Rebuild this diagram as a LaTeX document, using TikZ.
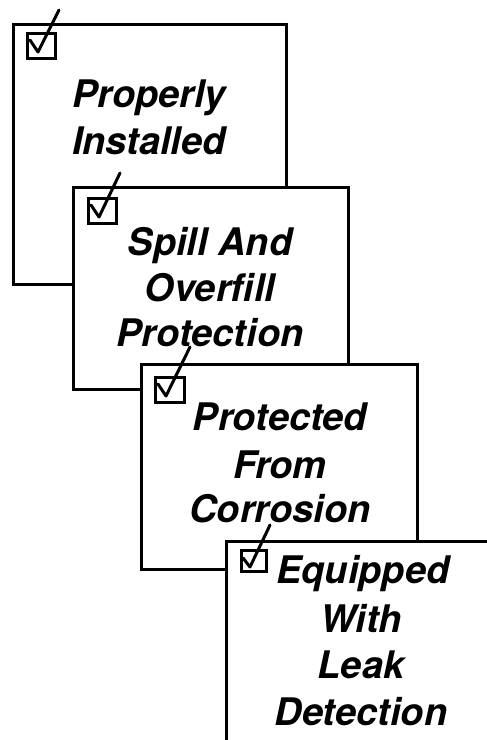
\documentclass[tikz,border=0pt]{standalone}
\usepackage{fontspec}
\newfontfamily\lblfont{TeX Gyre Heros}
\begin{document}
\begin{tikzpicture}[x=1pt,y=-1pt,
 box/.style={draw,line width=2.8pt,fill=white,anchor=north west,inner sep=0pt},
 cbox/.style={draw,line width=2.8pt,anchor=north west,inner sep=0pt},
 tick/.style={line width=3pt,line cap=round,line join=round},
 lbl/.style={anchor=base,inner sep=0pt,font=\lblfont\fontsize{38}{40}\selectfont\bfseries\itshape}]
\useasboundingbox (0,0) rectangle (487,740);
\begin{scope}
\clip (0,0) rectangle (487,740);
% box 1
\node[box,minimum width=273pt,minimum height=260pt] (b1) at (12,23) {};
\node[cbox,minimum width=28pt,minimum height=25pt] (cb1) at (26,32) {};
\draw[tick] ([shift={(4,8)}]cb1.north west) -- ([shift={(12,20)}]cb1.north west) -- ([shift={(33,-22)}]cb1.north west);
\node[lbl] (t1a) at (149,107) {Properly};
\node[lbl] (t1b) at (149,154) {Installed};
% box 2
\node[box,minimum width=275pt,minimum height=202pt] (b2) at (72,186) {};
\node[cbox,minimum width=28pt,minimum height=25pt] (cb2) at (87,197) {};
\draw[tick] ([shift={(4,8)}]cb2.north west) -- ([shift={(12,20)}]cb2.north west) -- ([shift={(33,-24)}]cb2.north west);
\node[lbl] (t2a) at (210,255) {Spill And};
\node[lbl] (t2b) at (210,301) {Overfill};
\node[lbl] (t2c) at (210,346) {Protection};
% box 3
\node[box,minimum width=276pt,minimum height=205pt] (b3) at (140,363) {};
\node[cbox,minimum width=29pt,minimum height=25pt] (cb3) at (154,376) {};
\draw[tick] ([shift={(4,8)}]cb3.north west) -- ([shift={(12,20)}]cb3.north west) -- ([shift={(36,-29)}]cb3.north west);
\node[lbl] (t3a) at (280,430) {Protected};
\node[lbl] (t3b) at (280,478) {From};
\node[lbl] (t3c) at (280,522) {Corrosion};
% box 4
\node[box,minimum width=290pt,minimum height=230pt] (b4) at (225,540) {};
\node[cbox,minimum width=25pt,minimum height=21pt] (cb4) at (240,549) {};
\draw[tick] ([shift={(3,9)}]cb4.north west) -- ([shift={(10,18)}]cb4.north west) -- ([shift={(30,-24)}]cb4.north west);
\node[lbl] (t4a) at (363,583) {Equipped};
\node[lbl] (t4b) at (361,632) {With};
\node[lbl] (t4c) at (361,678) {Leak};
\node[lbl] (t4d) at (361,725) {Detection};
\end{scope}
\end{tikzpicture}
\end{document}
